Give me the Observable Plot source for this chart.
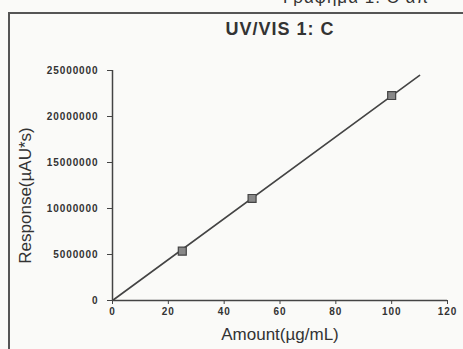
<!DOCTYPE html>
<html>
<head>
<meta charset="utf-8">
<script src="https://cdn.jsdelivr.net/npm/d3@7"></script>
<script src="https://cdn.jsdelivr.net/npm/@observablehq/plot@0.6"></script>
<style>
  html, body { margin: 0; padding: 0; }
  body { width: 463px; height: 349px; overflow: hidden; position: relative; background: #fafaf8; font-family: "Liberation Sans", Arial, sans-serif; }
  #top { position: absolute; left: 283px; top: -12px; font-size: 17px; color: #333; white-space: nowrap; letter-spacing: 1px; }
  #frame { position: absolute; left: 8px; top: 12px; width: 480px; height: 360px; border: 2px solid #555; box-sizing: border-box; }
  #chart { position: absolute; left: 0; top: 0; }
</style>
</head>
<body>
<div id="top">Γράφημα 1: C απ</div>
<div id="frame"></div>
<div id="chart"></div>
<script>
const title = "UV/VIS 1: C";
const xLabel = "Amount(µg/mL)";
const yLabel = "Response(µAU*s)";
const amounts = [25, 50, 100];
const responses = [5360000, 11090000, 22280000];
const fitX = [0, 110];
const fitY = [0, 24470000];
const xTicks = [0, 20, 40, 60, 80, 100, 120];
const yTicks = [0, 5000000, 10000000, 15000000, 20000000, 25000000];

const points = amounts.map((a, i) => ({x: a, y: responses[i]}));
const fit = fitX.map((a, i) => ({x: a, y: fitY[i]}));

const plot = Plot.plot({
  width: 463,
  height: 349,
  marginLeft: 112,
  marginRight: 16,
  marginTop: 70,
  marginBottom: 49,
  style: {background: "transparent", color: "#333", fontFamily: "'Liberation Sans', Arial, sans-serif"},
  x: {domain: [0, 120], ticks: xTicks, tickFormat: d => String(d), label: null},
  y: {domain: [0, 25000000], ticks: yTicks, tickFormat: d => String(d), label: null},
  marks: [
    Plot.ruleY([0], {stroke: "#444", strokeWidth: 1.5}),
    Plot.ruleX([0], {stroke: "#444", strokeWidth: 1.5}),
    Plot.axisX({ticks: xTicks, tickFormat: d => String(d), tickSize: 4, tickPadding: 3, fontSize: 10, fontWeight: "bold", stroke: "#444", fill: "#333", label: null}),
    Plot.axisY({ticks: yTicks, tickFormat: d => String(d), tickSize: 5, tickPadding: 9, fontSize: 10, fontWeight: "bold", stroke: "#444", fill: "#333", label: null}),
    Plot.line(fit, {x: "x", y: "y", stroke: "#444", strokeWidth: 1.6}),
    Plot.dot(points, {x: "x", y: "y", symbol: "square", r: 4.5, fill: "#888", stroke: "#444", strokeWidth: 1.2}),
    Plot.text([title], {frameAnchor: "top", dy: -48, text: d => d, fontSize: 18, fontWeight: "bold", fill: "#333"}),
    Plot.text([xLabel], {frameAnchor: "bottom", dy: 39, text: d => d, fontSize: 17, fill: "#333"}),
    Plot.text([yLabel], {frameAnchor: "left", dx: -87, dy: 10, rotate: -90, textAnchor: "middle", text: d => d, fontSize: 17, fill: "#333"})
  ]
});
d3.select(plot).selectAll("g[aria-label='x-axis tick label'] text, g[aria-label='y-axis tick label'] text").style("letter-spacing", "0.9px");
d3.select(plot).selectAll("g[aria-label='text'] text").filter(function(){ return this.textContent === title; }).style("letter-spacing", "1px");
document.getElementById("chart").appendChild(plot);
</script>
</body>
</html>
